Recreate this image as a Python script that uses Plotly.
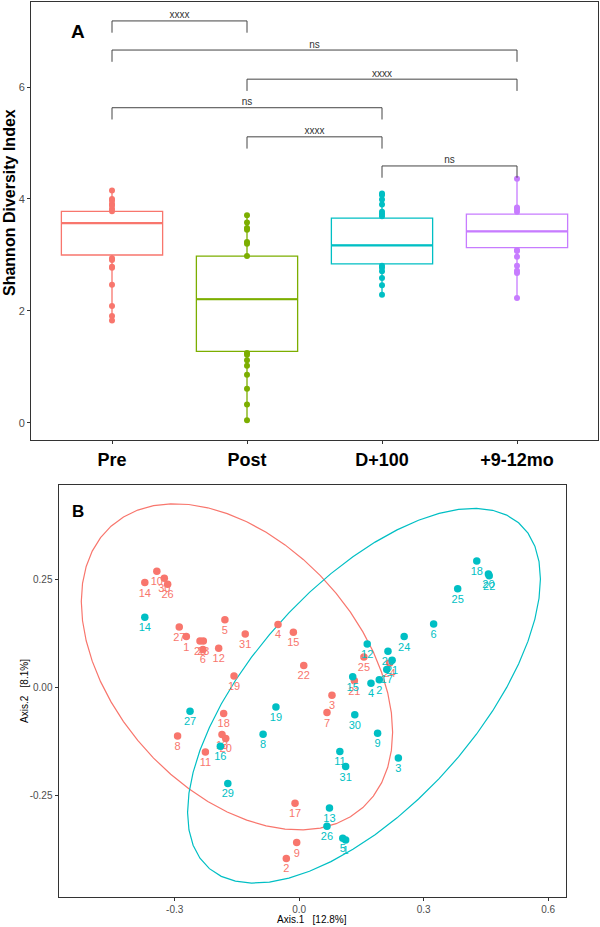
import numpy as np
import plotly.graph_objects as go

# ---------------- Panel A data ----------------
groups = ["Pre", "Post", "D+100", "+9-12mo"]
group_colors = ["#F8766D", "#7CAE00", "#00BFC4", "#C77CFF"]
q1 = [3.00, 1.28, 2.84, 3.13]
median = [3.57, 2.21, 3.17, 3.42]
q3 = [3.78, 2.98, 3.66, 3.73]
lower_fence = [1.83, 0.05, 2.29, 2.23]
upper_fence = [4.15, 3.71, 4.10, 4.36]

pts_pre = [4.15, 4.00, 3.97, 3.91, 3.88, 3.82, 3.78, 2.94, 2.91, 2.79, 2.77, 2.47, 2.09, 1.91, 1.83]
pts_post = [3.71, 3.58, 3.48, 3.45, 3.23, 3.20, 2.98, 1.25, 1.22, 1.12, 1.02, 0.86, 0.61, 0.33, 0.05]
pts_d100 = [4.10, 4.07, 3.99, 3.90, 3.77, 3.73, 3.69, 2.81, 2.77, 2.71, 2.59, 2.46, 2.29]
pts_912 = [4.36, 3.85, 3.82, 3.77, 3.09, 3.07, 2.97, 2.81, 2.72, 2.68, 2.23]
group_points = [pts_pre, pts_post, pts_d100, pts_912]

bracket_left = [1, 1, 2, 1, 2, 3]
bracket_right = [2, 4, 4, 3, 3, 4]
bracket_y = [7.18, 6.66, 6.14, 5.63, 5.11, 4.59]
bracket_label = ["xxxx", "ns", "xxxx", "ns", "xxxx", "ns"]

# ---------------- Panel B data ----------------
pre_labels = ["1", "2", "3", "4", "5", "6", "7", "8", "9", "10", "11", "12", "13", "14", "15",
              "17", "18", "19", "20", "21", "22", "23", "24", "25", "26", "27", "28", "30", "31"]
pre_x = [-0.272, -0.031, 0.079, -0.051, -0.179, -0.232, 0.067, -0.293, -0.006, -0.343, -0.226,
         -0.194, -0.186, -0.372, -0.014, -0.010, -0.182, -0.157, -0.177, 0.133, 0.011, -0.231,
         0.218, 0.156, -0.317, -0.289, -0.239, -0.325, -0.130]
pre_y = [0.117, -0.397, -0.019, 0.145, 0.156, 0.087, -0.059, -0.113, -0.360, 0.268, -0.150,
         0.090, -0.110, 0.242, 0.127, -0.269, -0.061, 0.026, -0.119, 0.015, 0.050, 0.107,
         0.056, 0.070, 0.238, 0.139, 0.107, 0.252, 0.123]

post_labels = ["1", "2", "3", "4", "5", "6", "8", "9", "11", "12", "13", "14", "15", "16", "17",
               "18", "19", "20", "21", "22", "24", "25", "26", "27", "28", "29", "30", "31"]
post_x = [0.112, 0.193, 0.239, 0.173, 0.105, 0.324, -0.087, 0.189, 0.098, 0.164, 0.073, -0.372,
          0.129, -0.190, 0.211, 0.428, -0.056, 0.456, 0.224, 0.458, 0.253, 0.382, 0.067, -0.263,
          0.214, -0.172, 0.134, 0.112]
post_y = [-0.354, 0.017, -0.164, 0.009, -0.350, 0.146, -0.109, -0.107, -0.149, 0.100, -0.280,
          0.162, 0.024, -0.137, 0.041, 0.292, -0.046, 0.262, 0.062, 0.258, 0.117, 0.228, -0.322,
          -0.056, 0.083, -0.223, -0.064, -0.184]

RED = "#F8766D"
TEAL = "#00BFC4"
FONT = "Liberation Sans"
W, H = 600, 927


def cov_trob(xy, nu=5, maxit=25, tol=0.01):
    n, p = xy.shape
    loc = xy.mean(axis=0)
    w = np.ones(n)
    for _ in range(maxit):
        w0 = w.copy()
        X = xy - loc
        S = (X * w[:, None]).T @ X / w.sum()
        Q = np.einsum("ij,jk,ik->i", X, np.linalg.inv(S), X)
        w = (nu + p) / (nu + Q)
        loc = (w[:, None] * xy).sum(axis=0) / w.sum()
        if np.all(np.abs(w - w0) < tol):
            break
    X = xy - loc
    cov = (X * w[:, None]).T @ X / n
    return loc, cov


def ellipse(xs, ys, level=0.95, segments=51):
    xy = np.column_stack([xs, ys])
    n = len(xs)
    loc, cov = cov_trob(xy)
    dfd = n - 1
    qf = (dfd / 2.0) * ((1 - level) ** (-2.0 / dfd) - 1)
    radius = np.sqrt(2 * qf)
    ang = np.linspace(0, 2 * np.pi, segments)
    circle = np.column_stack([np.cos(ang), np.sin(ang)])
    chol = np.linalg.cholesky(cov).T
    e = loc + radius * circle @ chol
    return e[:, 0], e[:, 1]


fig = go.Figure()

# ---------------- Panel A traces ----------------
for i, g in enumerate(groups):
    fig.add_trace(go.Box(
        x=[i + 1], q1=[q1[i]], median=[median[i]], q3=[q3[i]],
        lowerfence=[lower_fence[i]], upperfence=[upper_fence[i]],
        width=0.75, whiskerwidth=0, fillcolor="white",
        line=dict(color=group_colors[i], width=1.3), boxpoints=False,
        xaxis="x", yaxis="y", showlegend=False, hoverinfo="skip"))
    fig.add_trace(go.Scatter(
        x=[i + 1 - 0.375, i + 1 + 0.375], y=[median[i], median[i]], mode="lines",
        line=dict(color=group_colors[i], width=2.2), xaxis="x", yaxis="y",
        showlegend=False, hoverinfo="skip"))
    fig.add_trace(go.Scatter(
        x=[i + 1] * len(group_points[i]), y=group_points[i], mode="markers",
        marker=dict(color=group_colors[i], size=6), xaxis="x", yaxis="y",
        showlegend=False))

tip = 0.21
for l, r, yv, lab in zip(bracket_left, bracket_right, bracket_y, bracket_label):
    fig.add_trace(go.Scatter(
        x=[l, l, r, r], y=[yv - tip, yv, yv, yv - tip], mode="lines",
        line=dict(color="#444444", width=1), xaxis="x", yaxis="y",
        showlegend=False, hoverinfo="skip"))
    fig.add_trace(go.Scatter(
        x=[(l + r) / 2], y=[yv], mode="text", text=[lab], textposition="top center",
        textfont=dict(family=FONT, size=10, color="#333333"), xaxis="x", yaxis="y",
        showlegend=False, hoverinfo="skip"))

# ---------------- Panel B traces ----------------
for xs, ys, col in [(pre_x, pre_y, RED), (post_x, post_y, TEAL)]:
    ex, ey = ellipse(np.array(xs), np.array(ys))
    fig.add_trace(go.Scatter(x=ex, y=ey, mode="lines", line=dict(color=col, width=1.2),
                             xaxis="x2", yaxis="y2", showlegend=False, hoverinfo="skip"))

for xs, ys, labs, col in [(pre_x, pre_y, pre_labels, RED), (post_x, post_y, post_labels, TEAL)]:
    fig.add_trace(go.Scatter(
        x=xs, y=ys, mode="markers+text", text=labs, textposition="bottom center",
        marker=dict(color=col, size=7.5), textfont=dict(family=FONT, size=11, color=col),
        xaxis="x2", yaxis="y2", showlegend=False))

axis_common = dict(showline=True, linecolor="#333333", linewidth=1, mirror=True,
                   ticks="outside", ticklen=3, tickcolor="#333333", showgrid=False,
                   zeroline=False, automargin=False)


def px(x):
    return x / W


def py(y):
    return 1 - y / H


def note(text, x, y, size, angle=0, color="black"):
    return dict(text=text, x=px(x), y=py(y), xref="paper", yref="paper",
                xanchor="center", yanchor="middle", textangle=angle, showarrow=False,
                font=dict(family=FONT, size=size, color=color))


fig.update_layout(
    width=W, height=H, margin=dict(l=0, r=0, t=0, b=0, autoexpand=False),
    paper_bgcolor="white", plot_bgcolor="white",
    font=dict(family=FONT),
    xaxis=dict(domain=[px(31), px(598)], range=[0.4, 4.6], tickvals=[1, 2, 3, 4],
               ticktext=groups, tickfont=dict(family=FONT, size=18, color="black", weight="bold"),
               anchor="y", **axis_common),
    yaxis=dict(domain=[py(440), py(2)], range=[-0.304, 7.518], tickvals=[0, 2, 4, 6],
               tickfont=dict(family=FONT, size=11, color="#4d4d4d"), anchor="x",
               **axis_common),
    xaxis2=dict(domain=[px(58.5), px(566)], range=[-0.580, 0.643],
                tickvals=[-0.3, 0.0, 0.3, 0.6], ticktext=["-0.3", "0.0", "0.3", "0.6"],
                tickfont=dict(family=FONT, size=10, color="#4d4d4d"), anchor="y2",
                **axis_common),
    yaxis2=dict(domain=[py(897), py(485)], range=[-0.486, 0.468],
                tickvals=[-0.25, 0.0, 0.25], ticktext=["-0.25", "0.00", "0.25"],
                tickfont=dict(family=FONT, size=10, color="#4d4d4d"), anchor="x2",
                **axis_common),
    annotations=[
        note("<b>A</b>", 78, 32, 19),
        note("<b>B</b>", 78, 512, 17),
        note("<b>Shannon Diversity Index</b>", 9, 203, 16, angle=-90),
        note("Axis.1   [12.8%]", 312, 919, 10),
        note("Axis.2   [8.1%]", 24, 691, 10, angle=-90),
    ],
)

fig.write_html("out.html",
               config={"displayModeBar": False},
               post_script="document.body.style.margin='0px';document.body.style.padding='0px';")
